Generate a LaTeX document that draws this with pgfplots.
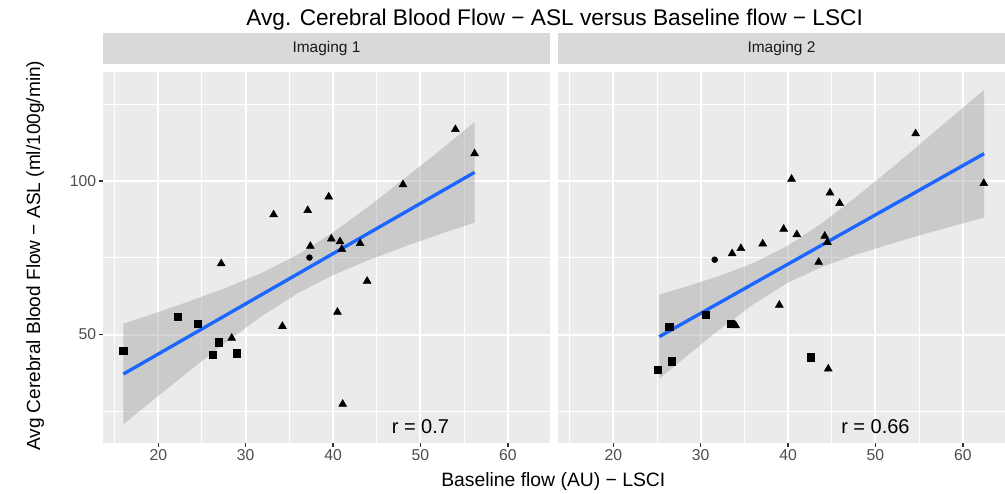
\documentclass[border=0pt]{standalone}
\usepackage{fontspec}
\setmainfont{Liberation Sans}
\usepackage{pgfplots}
\pgfplotsset{compat=1.18}
\definecolor{panelbg}{HTML}{EBEBEB}
\definecolor{stripbg}{HTML}{D9D9D9}
\definecolor{striptext}{HTML}{1A1A1A}
\definecolor{ticktext}{HTML}{4D4D4D}
\definecolor{tickmark}{HTML}{333333}
\definecolor{ggblue}{HTML}{1A66FF}
\definecolor{grey60}{HTML}{999999}

\pgfplotsset{
  ggpanel/.style={
    scale only axis, width=335.25pt, height=278pt,
    xmin=13.67, xmax=64.83, ymin=14.7, ymax=135.6,
    axis background/.style={fill=panelbg},
    axis line style={draw=none},
    grid=both,
    major grid style={white, line width=1.5pt},
    minor grid style={white, line width=0.75pt},
    xtick={20,30,40,50,60}, minor xtick={15,25,35,45,55},
    ytick={50,100}, minor ytick={25,75,125},
    tick align=outside, major tick length=3pt, minor tick length=0pt,
    xtick pos=bottom, ytick pos=left,
    major tick style={tickmark, line width=1.1pt},
    minor tick style={draw=none},
    /pgf/number format/assume math mode=true,
    ticklabel style={font=\fontsize{11.8}{12}\selectfont, text=ticktext},
    xticklabel style={inner sep=2pt},
    yticklabel style={inner sep=2pt},
    title style={at={(0.5,1)}, anchor=south, yshift=0pt, fill=stripbg,
      minimum width=335.25pt, minimum height=23.25pt, inner sep=0pt,
      font=\fontsize{11.6}{12}\selectfont, text=striptext},
  },
  sq/.style={only marks, mark=square*, mark size=2.7pt, black},
  dot/.style={only marks, mark=*, mark size=2.2pt, black},
  tri/.style={only marks, mark=triangle*, mark size=3.4pt, black},
  band/.style={fill=grey60, fill opacity=0.4, draw=none},
  fit/.style={ggblue, line width=2.5pt},
}

\begin{document}
\begin{tikzpicture}
\path[use as bounding box] (0pt,0pt) rectangle (753.75pt,369.75pt);

% ---------- Panel 1 ----------
\begin{axis}[ggpanel, at={(77.25pt,37.7pt)}, anchor=south west, title={Imaging 1}]
\addplot[sq] coordinates {(16.0,44.8) (22.2,55.7) (24.5,53.5) (26.9,47.5) (26.2,43.4) (29.0,43.9)};
\addplot[dot] coordinates {(37.3,75.1)};
\addplot[tri] coordinates {
(54.0,116.9) (56.2,109.0) (48.0,98.9) (39.5,94.9) (37.1,90.5) (33.2,89.1)
(39.8,81.2) (40.8,80.3) (41.0,77.8) (37.4,78.8) (43.1,79.7) (27.2,73.1)
(43.9,67.4) (40.5,57.3) (34.2,52.7) (28.4,48.8) (41.1,27.3)};
\addplot[band] coordinates {
(16,53.5) (20,57.3) (24,61.3) (28,65.5) (32,70.3) (36,76.1) (40,83.3) (44,91.6) (48,100.5) (52,109.5) (56.2,119.3)
(56.2,86.5) (52,82.5) (48,78.5) (44,74.2) (40,69.4) (36,63.5) (32,56.3) (28,48.0) (24,39.1) (20,30.0) (16,20.7)} -- cycle;
\addplot[fit] coordinates {(16,37.1) (56.2,102.9)};
\node[font=\fontsize{15}{16}\selectfont] at (axis cs:50,20) {r = 0.7};
\end{axis}

% ---------- Panel 2 ----------
\begin{axis}[ggpanel, at={(418.5pt,37.7pt)}, anchor=south west, title={Imaging 2},
  yticklabels={}, major tick style={tickmark, line width=1.1pt}, ytick style={draw=none}]
\addplot[sq] coordinates {(25.1,38.6) (26.7,41.3) (26.4,52.4) (30.6,56.5) (33.4,53.5) (42.6,42.6)};
\addplot[dot] coordinates {(31.6,74.4)};
\addplot[tri] coordinates {
(54.6,115.5) (62.4,99.3) (40.4,100.7) (44.8,96.2) (45.9,92.8) (39.5,84.4)
(41.0,82.6) (33.6,76.4) (34.6,78.1) (37.1,79.6) (44.2,82.1) (44.5,80.1)
(43.5,73.6) (39.0,59.6) (34.0,52.9) (33.8,53.3) (44.6,38.8)};
\addplot[band] coordinates {
(25.26,63.05) (28,65.35) (32,68.95) (36,73.27) (40,78.99) (44,86.58) (48,95.34) (52,104.64) (56,114.28) (60,123.93) (62.44,129.85)
(62.44,88.15) (60,86.27) (56,83.12) (52,79.76) (48,76.26) (44,72.22) (40,66.95) (36,59.83) (32,51.25) (28,42.05) (25.26,35.55)} -- cycle;
\addplot[fit] coordinates {(25.26,49.3) (62.44,109.0)};
\node[font=\fontsize{15}{16}\selectfont] at (axis cs:50,20) {r = 0.66};
\end{axis}

% ---------- Titles ----------
\node[anchor=base, font=\fontsize{17}{20}\selectfont] at (416pt,350.5pt)
  {Avg. Cerebral Blood Flow − ASL versus Baseline flow − LSCI};
\node[anchor=base, font=\fontsize{14.5}{16}\selectfont] at (415pt,5.25pt)
  {Baseline flow (AU) − LSCI};
\node[anchor=base, rotate=90, font=\fontsize{14.3}{16}\selectfont] at (30pt,177.9pt)
  {Avg Cerebral Blood Flow − ASL (ml/100g/min)};
\end{tikzpicture}
\end{document}
